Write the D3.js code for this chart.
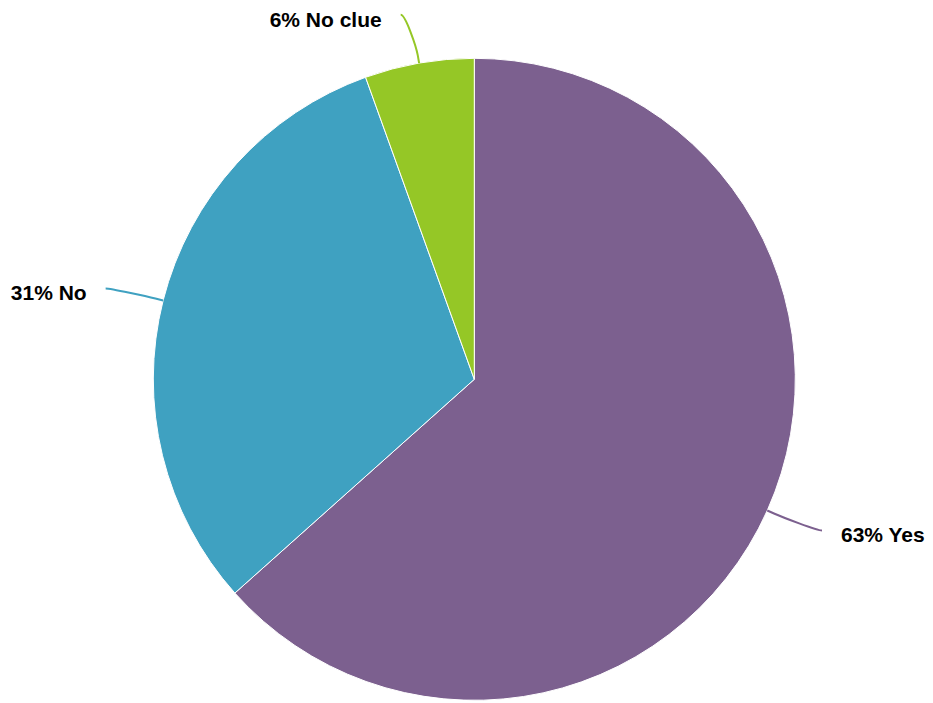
<!DOCTYPE html>
<html>
<head>
<meta charset="utf-8">
<script src="https://cdn.jsdelivr.net/npm/d3@7"></script>
<style>
  html, body { margin: 0; padding: 0; background: #ffffff; }
  svg { display: block; }
</style>
</head>
<body>
<svg id="chart" width="933" height="703"></svg>
<script>
// ---- data ----
const categories = ["Yes", "No", "No clue"];
const values = [63.4, 31.1, 5.5];
const colors = ["#7c608f", "#3fa1c1", "#95c726"];

// ---- layout ----
const W = 933, H = 703;
const cx = 474.3, cy = 379.3, r = 321;
const labelDistance = 49;
const svg = d3.select("#chart");
const g = svg.append("g").attr("transform", `translate(${cx},${cy})`);

const total = d3.sum(values);
const data = categories.map((c, i) => ({ name: c, value: values[i], color: colors[i] }));

const pie = d3.pie().value(d => d.value).sort(null).startAngle(0).endAngle(2 * Math.PI);
const arcs = pie(data);
const arc = d3.arc().innerRadius(0).outerRadius(r);

g.selectAll("path.slice")
  .data(arcs)
  .join("path")
  .attr("class", "slice")
  .attr("d", arc)
  .attr("fill", d => d.data.color)
  .attr("stroke", "#ffffff")
  .attr("stroke-width", 1)
  .attr("stroke-linejoin", "round");

// ---- labels with soft connectors ----
const R = r + labelDistance;
arcs.forEach(a => {
  const ang = (a.startAngle + a.endAngle) / 2;
  const sx = Math.sin(ang), sy = -Math.cos(ang);
  const side = sx < 0 ? -1 : 1;
  const touch = [r * sx, r * sy];
  const off = 8;
  const brk = [(r + off) * sx, (r + off) * sy];
  const ctrl2 = [2 * brk[0] - touch[0], 2 * brk[1] - touch[1]];
  const ly = R * sy;
  const lxCirc = side * Math.sqrt(Math.max(0, R * R - ly * ly));
  const end = [lxCirc + side * 10, ly];
  const ctrl1 = [end[0] - side * 5, end[1]];
  const path = d3.path();
  path.moveTo(end[0], end[1]);
  path.bezierCurveTo(ctrl1[0], ctrl1[1], ctrl2[0], ctrl2[1], brk[0], brk[1]);
  path.lineTo(touch[0], touch[1]);
  g.append("path")
    .attr("d", path.toString())
    .attr("fill", "none")
    .attr("stroke", a.data.color)
    .attr("stroke-width", 2);

  const pct = Math.round(a.data.value / total * 100);
  g.append("text")
    .attr("x", end[0] + side * 19)
    .attr("y", end[1] + 11.8)
    .attr("text-anchor", side < 0 ? "end" : "start")
    .attr("font-family", "'Liberation Sans', Arial, Helvetica, sans-serif")
    .attr("font-weight", "bold")
    .attr("font-size", "21px")
    .attr("fill", "#000000")
    .text(`${pct}% ${a.data.name}`);
});
</script>
</body>
</html>
